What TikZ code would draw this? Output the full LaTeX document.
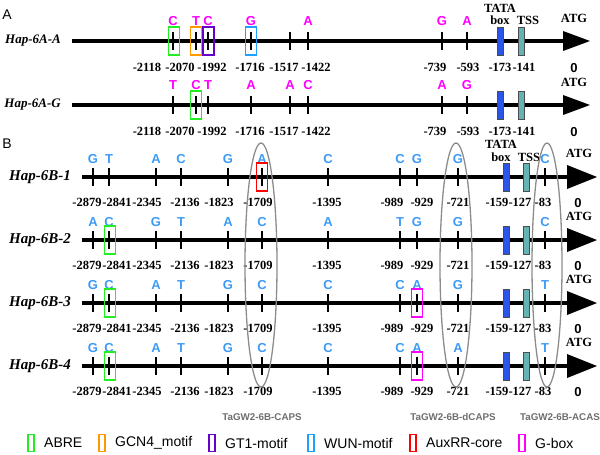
\documentclass[tikz,border=0pt]{standalone}
\usepackage{fontspec}
\setmainfont{Liberation Serif}
\setsansfont{Liberation Sans}
\definecolor{mag}{HTML}{FF00FF}
\definecolor{lblue}{HTML}{3D9BF5}
\definecolor{abre}{HTML}{22EE22}
\definecolor{gcn}{HTML}{FF9900}
\definecolor{gtone}{HTML}{6600CC}
\definecolor{wun}{HTML}{1EA0FF}
\definecolor{auxrr}{HTML}{FF0000}
\definecolor{gbox}{HTML}{FF00FF}
\definecolor{tata}{HTML}{2B55E6}
\definecolor{tss}{HTML}{66B3B3}
\definecolor{ellgray}{HTML}{8C8C8C}
\definecolor{labgray}{HTML}{6E6E6E}
\begin{document}
\begin{tikzpicture}[x=1pt,y=-1pt,
  mainline/.style={line width=4pt},
  tk/.style={line width=2pt},
  tlab/.style={font=\fontsize{12.5}{13}\selectfont\bfseries, inner sep=0pt},
  letA/.style={font=\fontsize{13}{13}\selectfont\sffamily\bfseries, text=mag, inner sep=0pt},
  letB/.style={font=\fontsize{13}{13}\selectfont\sffamily\bfseries, text=lblue, inner sep=0pt},
  rowlabA/.style={font=\fontsize{13}{13}\selectfont\bfseries\itshape, anchor=east, inner sep=0pt},
  rowlabB/.style={font=\fontsize{15}{15}\selectfont\bfseries\itshape, anchor=east, inner sep=0pt},
  motif/.style={draw, line width=1.8pt, minimum width=11pt, minimum height=28pt, inner sep=0pt},
  legbox/.style={draw, line width=1.8pt, minimum width=6pt, minimum height=17pt, inner sep=0pt},
  legtext/.style={font=\fontsize{14}{14}\selectfont\sffamily, anchor=west, inner sep=0pt},
  tbox/.style={draw=black!70, line width=0.5pt, minimum width=6pt, minimum height=28pt, inner sep=0pt},
  atg/.style={font=\fontsize{12.5}{13}\selectfont\bfseries, inner sep=0pt},
  zero/.style={font=\fontsize{13}{13}\selectfont\sffamily\bfseries, inner sep=0pt},
  panel/.style={font=\fontsize{14}{14}\selectfont\sffamily, inner sep=0pt},
  ell/.style={draw=ellgray, line width=1.3pt},
  marker/.style={font=\fontsize{9.8}{10}\selectfont\sffamily\bfseries, text=labgray, inner sep=0pt}
]
\useasboundingbox (0,0) rectangle (600,455);

% ---------- Panel A ----------
\node[panel] (pA) at (7,15) {A};
\node[rowlabA] (rA1) at (61,41) {Hap-6A-A};
\node[rowlabA] (rA2) at (61,105) {Hap-6A-G};
\node[tlab] (tataA) at (500,8) {TATA};
\node[tlab] (boxA) at (500,20) {box};
\node[tlab] (tssA) at (528,20) {TSS};

\foreach \y/\n in {41/a,105/g} {
  \draw[mainline] (72,\y) -- (565,\y);
  \fill (563,\y-10) -- (590,\y) -- (563,\y+10) -- cycle;
  \foreach \x in {173,196,208,251,290,308,442,467}
    \draw[tk] (\x,\y-9) -- (\x,\y+9);
  \foreach \x/\t [count=\i] in {147/-2118,180/-2070,212/-1992,250/-1716,284/-1517,316/-1422,435/-739,468/-593,500/-173,524/-141}
    \node[tlab] (labA\n\i) at (\x,\y+26) {\t};
  \node[tbox, fill=tata] (tataboxA\n) at (500,\y) {};
  \node[tbox, fill=tss] (tssboxA\n) at (521,\y) {};
  \node[atg] (atgA\n) at (574,\y-23) {ATG};
  \node[zero] (zeroA\n) at (574,\y+27) {0};
}
% letters row A-A
\foreach \x/\l [count=\i] in {173/C,196/T,208/C,251/G,308/A,442/G,467/A}
  \node[letA] (letAa\i) at (\x,21) {\l};
% letters row A-G
\foreach \x/\l [count=\i] in {173/T,196/C,208/T,251/A,290/A,308/C,442/A,467/G}
  \node[letA] (letAg\i) at (\x,85) {\l};
% motif boxes A
\node[motif, draw=abre] (mAa1) at (174,41) {};
\node[motif, draw=gcn] (mAa2) at (196,41) {};
\node[motif, draw=gtone] (mAa3) at (208.5,41) {};
\node[motif, draw=wun] (mAa4) at (251,41) {};
\node[motif, draw=abre] (mAg1) at (196,105) {};

% ---------- Panel B ----------
\node[panel] (pB) at (7,144) {B};
\node[tlab] (tataB) at (501,144) {TATA};
\node[tlab] (boxB) at (501,157) {box};
\node[tlab] (tssB) at (529,157) {TSS};

\foreach \y/\n/\r in {177/1/Hap-6B-1,240/2/Hap-6B-2,303/3/Hap-6B-3,366/4/Hap-6B-4} {
  \node[rowlabB] (rB\n) at (71,\y) {\r};
  \draw[mainline] (82,\y) -- (569,\y);
  \fill (567,\y-12) -- (597,\y) -- (567,\y+12) -- cycle;
  \foreach \x in {93,109,156,181,228,262,328,400,417,458,545}
    \draw[tk] (\x,\y-9) -- (\x,\y+9);
  \foreach \x/\t [count=\i] in {87/-2879,117/-2841,147/-2345,185/-2136,219/-1823,258/-1709,327/-1395,392/-989,422/-929,458/-721,497/-159,520/-127,543/-83}
    \node[tlab] (labB\n\i) at (\x,\y+25) {\t};
  \node[tbox, fill=tata] (tataboxB\n) at (506,\y) {};
  \node[tbox, fill=tss] (tssboxB\n) at (526,\y) {};
  \node[atg] (atgB\n) at (579,\y-24) {ATG};
  \node[zero] (zeroB\n) at (578,\y+26) {0};
}
\foreach \x/\l [count=\i] in {93/G,109/T,156/A,181/C,228/G,262/A,328/C,400/C,417/G,458/G,545/C}
  \node[letB] (letB1\i) at (\x,159) {\l};
\foreach \x/\l [count=\i] in {93/A,109/C,156/G,181/T,228/A,262/C,328/A,400/T,417/G,458/G,545/C}
  \node[letB] (letB2\i) at (\x,222) {\l};
\foreach \x/\l [count=\i] in {93/G,109/C,156/A,181/T,228/G,262/C,328/C,400/C,417/A,458/G,545/T}
  \node[letB] (letB3\i) at (\x,285) {\l};
\foreach \x/\l [count=\i] in {93/G,109/C,156/A,181/T,228/G,262/C,328/C,400/C,417/A,458/A,545/T}
  \node[letB] (letB4\i) at (\x,348) {\l};

% motif boxes B
\node[motif, draw=auxrr] (mB1) at (262,177) {};
\node[motif, draw=abre] (mB2) at (110,240) {};
\node[motif, draw=abre] (mB3a) at (110,303) {};
\node[motif, draw=gbox] (mB3b) at (417,303) {};
\node[motif, draw=abre] (mB4a) at (110,366) {};
\node[motif, draw=gbox] (mB4b) at (417,366) {};

% ellipses
\draw[ell] (261,265) ellipse [x radius=16, y radius=122];
\draw[ell] (456,265) ellipse [x radius=16, y radius=122];
\draw[ell] (547,265) ellipse [x radius=15, y radius=122];
\node[marker] (capsA) at (262,417) {TaGW2-6B-CAPS};
\node[marker] (capsB) at (453,417) {TaGW2-6B-dCAPS};
\node[marker] (capsC) at (560,417) {TaGW2-6B-ACAS};

% legend
\foreach \x/\c/\t [count=\i] in {31/abre/ABRE,102/gcn/GCN4\_motif,212/gtone/GT1-motif,311/wun/WUN-motif,413/auxrr/AuxRR-core,522/gbox/G-box} {
  \node[legbox, draw=\c] (lb\i) at (\x,443) {};
  \node[legtext] (lt\i) at (\x+13,443) {\t};
}
\end{tikzpicture}
\end{document}
